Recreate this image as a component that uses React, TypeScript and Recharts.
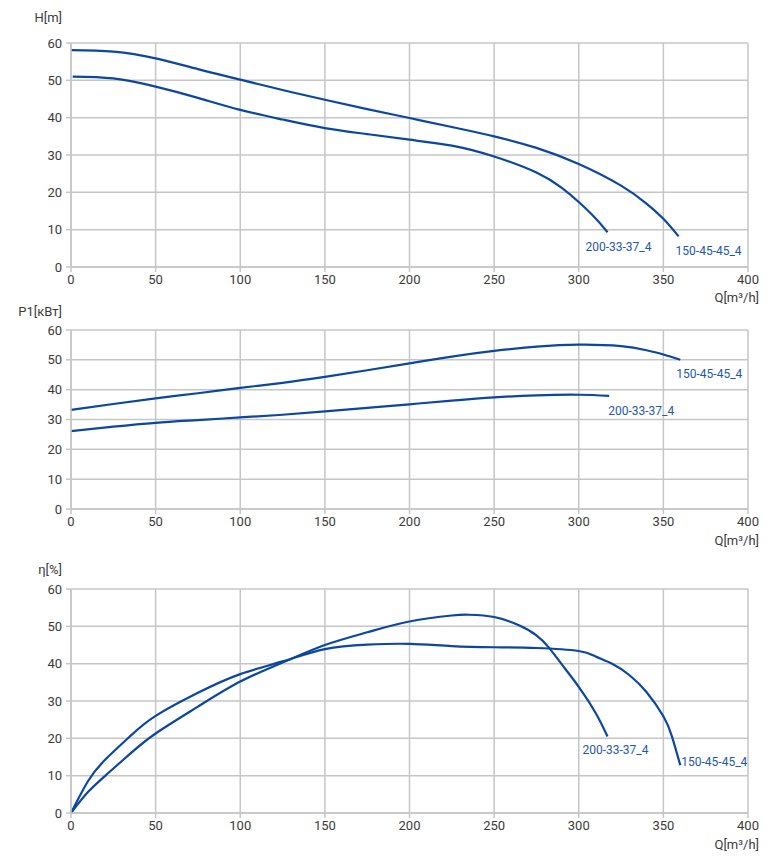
import React from "react";
import { LineChart, Line, XAxis, YAxis, CartesianGrid } from "recharts";

// Q values shared by the curves (m3/h)
const qHead150 = [0, 25, 50, 75, 100, 125, 150, 175, 200, 225, 250, 275, 300, 325, 340, 350, 359];
const head150 = [58.1, 57.7, 55.9, 53.0, 50.2, 47.4, 44.8, 42.3, 39.9, 37.5, 35.0, 31.9, 27.6, 21.8, 17.0, 12.9, 8.2];
const qHead200 = [1, 25, 50, 75, 100, 125, 150, 175, 200, 225, 250, 275, 290, 300, 310, 317];
const head200 = [51.0, 50.5, 48.3, 45.3, 42.1, 39.5, 37.2, 35.6, 34.1, 32.5, 29.6, 25.3, 21.2, 17.4, 13.0, 9.3];

const qPow150 = [0, 25, 50, 75, 100, 125, 150, 175, 200, 225, 250, 275, 300, 325, 340, 350, 360];
const pow150 = [33.2, 35.2, 37.1, 38.8, 40.6, 42.3, 44.3, 46.5, 48.8, 51.1, 53.0, 54.4, 55.1, 54.6, 53.2, 51.8, 50.0];
const qPow200 = [0, 25, 50, 75, 100, 125, 150, 175, 200, 225, 250, 275, 300, 318];
const pow200 = [26.1, 27.6, 28.9, 29.8, 30.7, 31.6, 32.7, 33.9, 35.1, 36.3, 37.4, 38.1, 38.3, 37.9];

const qEff150 = [0, 10, 20, 35, 50, 75, 100, 125, 150, 175, 200, 225, 250, 275, 300, 310, 320, 330, 340, 350, 355, 360];
const eff150 = [0, 8.5, 14.2, 20.6, 26.0, 32.2, 37.2, 40.6, 43.9, 45.1, 45.3, 44.7, 44.4, 44.2, 43.4, 41.9, 39.9, 36.9, 32.4, 25.9, 20.6, 12.8];
const qEff200 = [0, 10, 21, 35, 50, 75, 100, 125, 150, 175, 200, 225, 235, 250, 265, 275, 282, 290, 300, 310, 317];
const eff200 = [0, 5.6, 10.3, 15.9, 21.3, 28.5, 35.2, 40.3, 45.0, 48.4, 51.3, 52.9, 53.1, 52.5, 50.2, 47.6, 44.5, 39.8, 33.8, 26.8, 20.5];

const xTicks = [0, 50, 100, 150, 200, 250, 300, 350, 400];
const yTicks = [0, 10, 20, 30, 40, 50, 60];

const NAME_150 = "150-45-45_4";
const NAME_200 = "200-33-37_4";

const LINE = "#0b479f";
const GRID = "#c6c6c6";
const TEXT = "#3a3a3a";
const FONT = "Roboto, sans-serif";

const zip = (qs: number[], vs: number[]) => qs.map((q, i) => ({ q, v: vs[i] }));

interface Curve {
  name: string;
  data: { q: number; v: number }[];
  dx: number;
  dy: number;
}

interface PanelProps {
  top: number;
  height: number;
  marginTop: number;
  marginBottom: number;
  yTitle: string;
  yTitleTop: number;
  qTitleTop: number;
  curves: Curve[];
}

function Panel({ top, height, marginTop, marginBottom, yTitle, yTitleTop, qTitleTop, curves }: PanelProps) {
  return (
    <>
      <div style={{ position: "absolute", left: 0, top, width: 777, height }}>
        <LineChart
          width={777}
          height={height}
          margin={{ top: marginTop, right: 29, bottom: marginBottom, left: 31 }}
        >
          <CartesianGrid stroke={GRID} strokeWidth={1.5} />
          <XAxis
            type="number"
            dataKey="q"
            domain={[0, 400]}
            ticks={xTicks}
            allowDuplicatedCategory={false}
            height={30}
            stroke={GRID}
            strokeWidth={1.5}
            tickSize={5}
            tickMargin={3}
            tick={{ fill: TEXT, fontSize: 13, fontFamily: FONT }}
          />
          <YAxis
            type="number"
            domain={[0, 60]}
            ticks={yTicks}
            width={40}
            stroke={GRID}
            strokeWidth={1.5}
            tickSize={5}
            tickMargin={4}
            tick={{ fill: TEXT, fontSize: 13, fontFamily: FONT }}
          />
          {curves.map((c) => (
            <Line
              key={c.name}
              data={c.data}
              dataKey="v"
              type="natural"
              stroke={LINE}
              strokeWidth={2.2}
              dot={false}
              activeDot={false}
              isAnimationActive={false}
              label={(p: any) =>
                p.index === c.data.length - 1 ? (
                  <text
                    key={c.name + "-lbl"}
                    x={p.x + c.dx}
                    y={p.y + c.dy}
                    fill="#1f58a8"
                    fontSize={12}
                    fontFamily={FONT}
                  >
                    {c.name}
                  </text>
                ) : (
                  <g key={c.name + "-" + p.index} />
                )
              }
            />
          ))}
        </LineChart>
      </div>
      <div
        style={{
          position: "absolute",
          left: 0,
          width: 62,
          top: yTitleTop,
          textAlign: "right",
          font: `13px ${FONT}`,
          color: TEXT,
          lineHeight: "16px",
        }}
      >
        {yTitle}
      </div>
      <div
        style={{
          position: "absolute",
          right: 18,
          top: qTitleTop,
          font: `13px ${FONT}`,
          color: TEXT,
          lineHeight: "16px",
        }}
      >
        Q[m³/h]
      </div>
    </>
  );
}

export default function App() {
  return (
    <div style={{ position: "absolute", left: 0, top: 0, width: 777, height: 868, background: "#fff" }}>
      <Panel
        top={0}
        height={305}
        marginTop={43}
        marginBottom={8}
        yTitle="H[m]"
        yTitleTop={10}
        qTitleTop={290}
        curves={[
          { name: NAME_200, data: zip(qHead200, head200), dx: -22, dy: 19 },
          { name: NAME_150, data: zip(qHead150, head150), dx: -3, dy: 19 },
        ]}
      />
      <Panel
        top={300}
        height={255}
        marginTop={30}
        marginBottom={16}
        yTitle="P1[кВт]"
        yTitleTop={304}
        qTitleTop={533}
        curves={[
          { name: NAME_150, data: zip(qPow150, pow150), dx: -4, dy: 18 },
          { name: NAME_200, data: zip(qPow200, pow200), dx: -1, dy: 19 },
        ]}
      />
      <Panel
        top={560}
        height={308}
        marginTop={29}
        marginBottom={25}
        yTitle="η[%]"
        yTitleTop={562}
        qTitleTop={837}
        curves={[
          { name: NAME_200, data: zip(qEff200, eff200), dx: -25, dy: 18 },
          { name: NAME_150, data: zip(qEff150, eff150), dx: 1, dy: 1 },
        ]}
      />
    </div>
  );
}
